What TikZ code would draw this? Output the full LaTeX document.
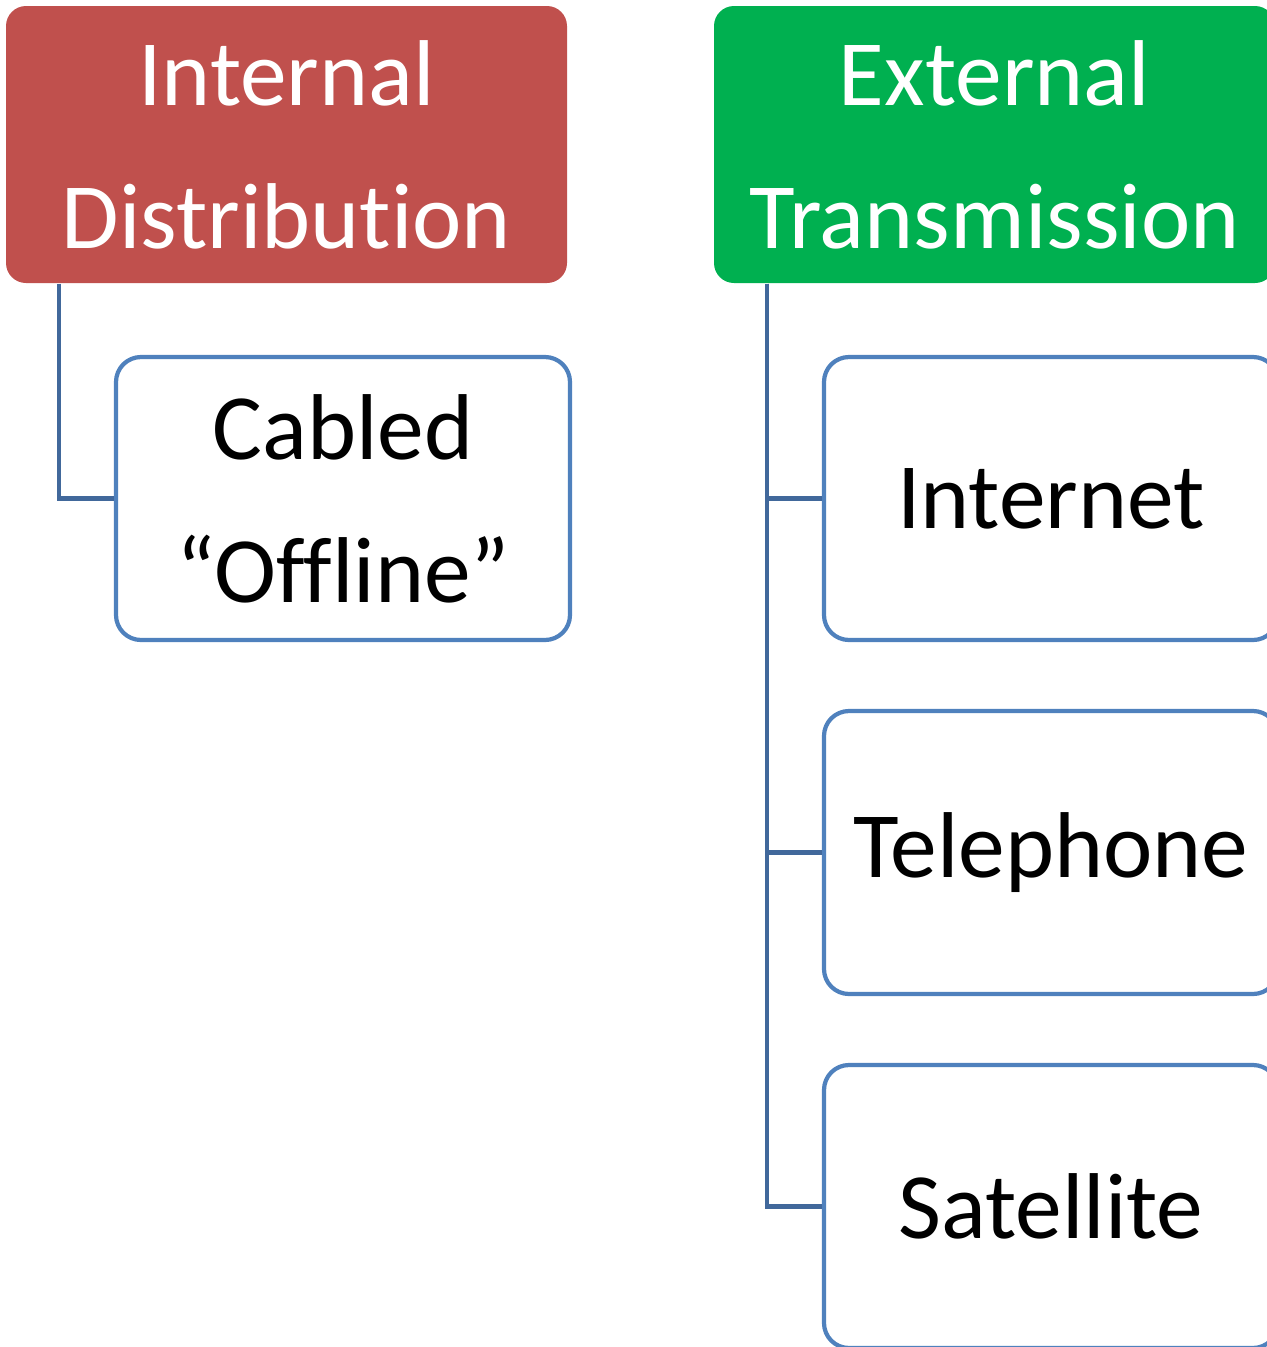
\documentclass[tikz,border=0pt]{standalone}
\usepackage{fontspec}
\setmainfont{Carlito}[Ligatures={NoCommon,NoContextual}]
\definecolor{headred}{RGB}{192,80,77}
\definecolor{headgreen}{RGB}{0,176,80}
\definecolor{boxblue}{RGB}{79,129,189}
\definecolor{linkblue}{RGB}{65,104,155}
\tikzset{
	head/.style={rounded corners=0.2cm, minimum width=5.61cm, minimum height=2.77cm, text=white, align=center, inner sep=0pt},
	leaf/.style={draw=boxblue, line width=1.2pt, fill=white, rounded corners=0.25cm, minimum width=4.54cm, minimum height=2.83cm, align=center, inner sep=0pt},
	link/.style={draw=linkblue, line width=1.2pt}
}
\begin{document}
\begin{tikzpicture}[font=\fontsize{26.6}{40.7}\selectfont]
			\useasboundingbox (0, 0) rectangle (12.67, -13.47);
			\clip (0, 0) rectangle (12.67, -13.47);
			
			\node[head, fill=headred] (intern) at (2.865, -1.445) {Internal\\Distribution};
			\node[head, fill=headgreen] (extern) at (9.945, -1.445) {External\\Transmission};
			
			\node[leaf] (cabled) at (3.43, -4.985) {Cabled\\“Offline”};
			
			\node[leaf] (internet) at (10.51, -4.985) {Internet};
			\node[leaf] (phone) at (10.51, -8.525) {Telephone};
			\node[leaf] (sat) at (10.51, -12.065) {Satellite};
			
			\draw[link] ([xshift=0.54cm]intern.south west) |- (cabled.west);
			
			\draw[link] ([xshift=0.54cm]extern.south west) |- (sat.west);
			\draw[link] ([xshift=0.54cm]extern.south west) |- (phone.west);
			\draw[link] ([xshift=0.54cm]extern.south west) |- (internet.west);
		\end{tikzpicture}
\end{document}
